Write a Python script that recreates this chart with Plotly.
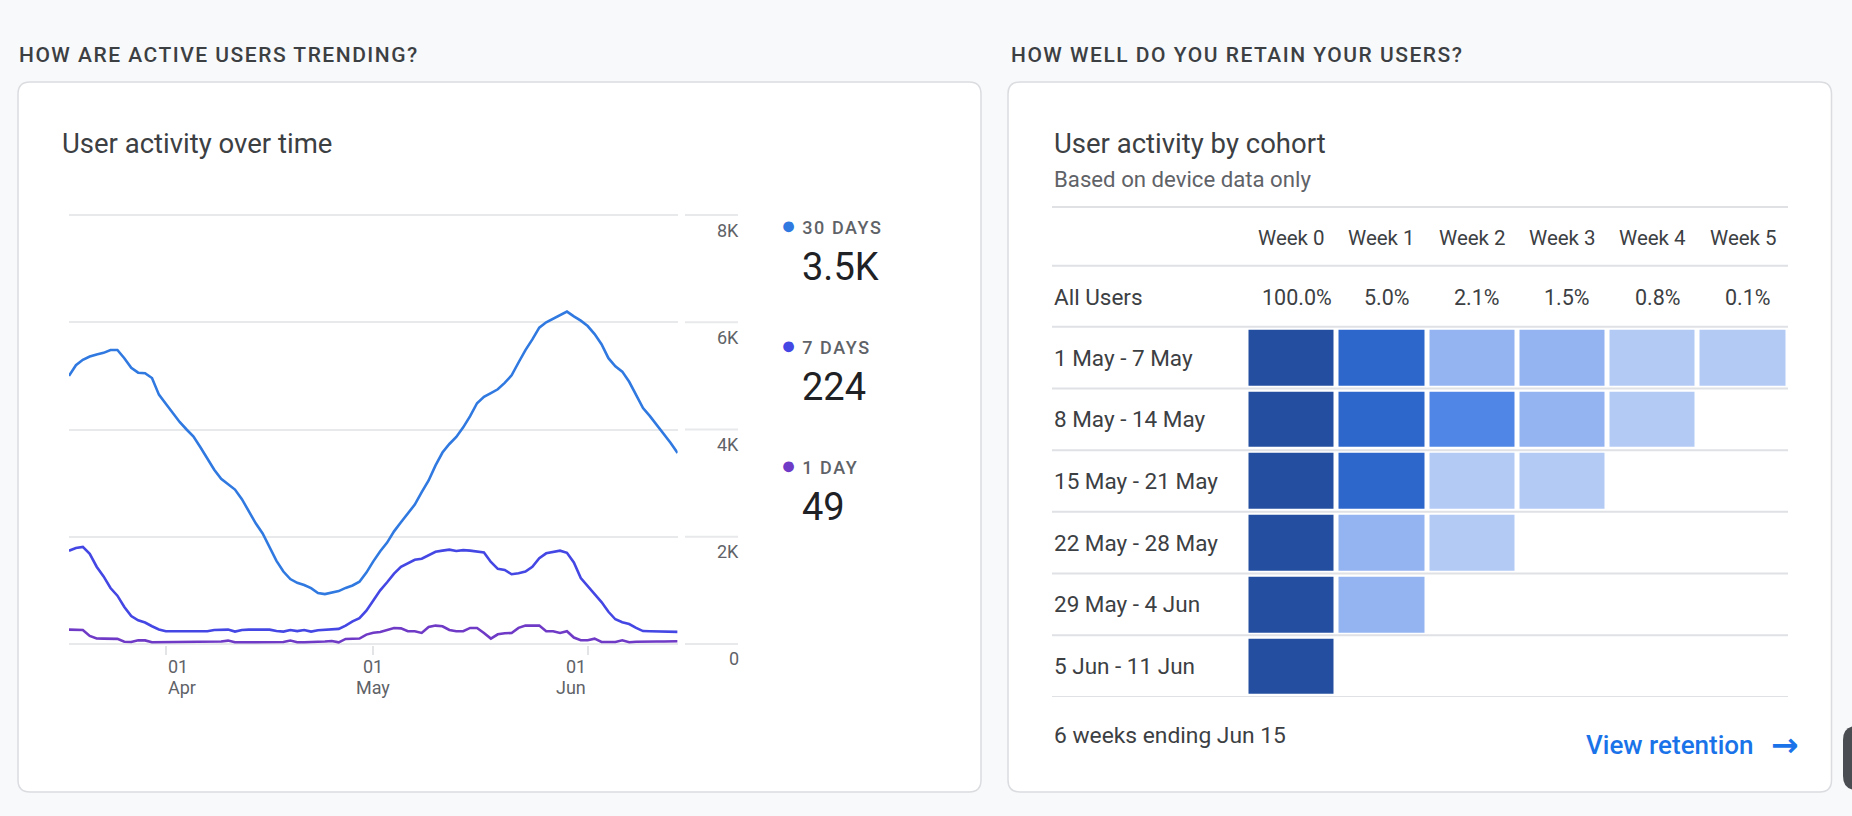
import plotly.graph_objects as go
import pandas as pd

W, H = 1852, 816

# ---------------- data ----------------
dates = pd.date_range("2023-03-18", "2023-06-14", freq="D")

users_30d = [5000, 5200, 5300, 5360, 5400, 5430, 5484, 5484, 5330, 5150,
             5060, 5050, 4960, 4650, 4480, 4300, 4140, 4000, 3870, 3670,
             3460, 3250, 3080, 2980, 2880, 2700, 2480, 2250, 2060, 1800,
             1550, 1350, 1210, 1140, 1100, 1040, 950, 930, 960, 985,
             1045, 1090, 1160, 1330, 1540, 1730, 1890, 2100, 2270, 2440,
             2600, 2830, 3050, 3330, 3570, 3730, 3860, 4040, 4250, 4490,
             4610, 4680, 4750, 4870, 5010, 5250, 5480, 5680, 5900, 6000,
             6070, 6130, 6200, 6110, 6030, 5930, 5780, 5590, 5330, 5180,
             5080, 4890, 4650, 4400, 4250, 4090, 3930, 3750, 3560]

users_7d = [1739, 1790, 1810, 1680, 1440, 1260, 1043, 900, 690, 520,
            440, 400, 330, 270, 236, 236, 236, 236, 236, 236,
            236, 260, 267, 267, 230, 260, 267, 267, 267, 267,
            240, 230, 260, 240, 260, 230, 255, 267, 267, 280,
            340, 420, 480, 620, 810, 1000, 1150, 1310, 1440, 1500,
            1570, 1590, 1660, 1720, 1740, 1758, 1735, 1750, 1740, 1727,
            1708, 1530, 1400, 1380, 1300, 1320, 1350, 1440, 1600, 1690,
            1720, 1739, 1700, 1520, 1230, 1080, 950, 780, 600, 460,
            404, 370, 300, 240, 236, 236, 236, 236, 224]

users_1d = [267, 267, 260, 150, 100, 99, 99, 95, 40, 37,
            68, 66, 31, 31, 31, 31, 31, 31, 31, 31,
            31, 31, 45, 62, 31, 31, 31, 31, 31, 31,
            31, 35, 62, 31, 31, 31, 31, 45, 55, 30,
            93, 93, 100, 174, 210, 224, 260, 298, 290, 236,
            236, 205, 317, 342, 330, 260, 236, 236, 298, 298,
            205, 99, 180, 200, 205, 300, 342, 342, 342, 236,
            236, 205, 236, 120, 70, 68, 99, 37, 37, 37,
            68, 31, 40, 45, 45, 45, 45, 45, 49]

series_names = ["30 DAYS", "7 DAYS", "1 DAY"]
series_latest = ["3.5K", "224", "49"]
series_colors = ["#3079e0", "#4447e3", "#6f3ac6"]

y_ticks = [0, 2000, 4000, 6000, 8000]
y_tick_labels = ["0", "2K", "4K", "6K", "8K"]
x_ticks = ["2023-04-01", "2023-05-01", "2023-06-01"]
x_tick_days = ["01", "01", "01"]
x_tick_months = ["Apr", "May", "Jun"]

weeks = ["Week 0", "Week 1", "Week 2", "Week 3", "Week 4", "Week 5"]
all_users_pct = [100.0, 5.0, 2.1, 1.5, 0.8, 0.1]
cohorts = ["1 May - 7 May", "8 May - 14 May", "15 May - 21 May",
           "22 May - 28 May", "29 May - 4 Jun", "5 Jun - 11 Jun"]
cohort_retention = [
    [100.0, 6.2, 2.3, 1.9, 0.9, 0.1],
    [100.0, 5.8, 3.6, 1.7, 0.7, None],
    [100.0, 5.5, 0.9, 0.8, None, None],
    [100.0, 2.0, 1.0, None, None, None],
    [100.0, 2.1, None, None, None, None],
    [100.0, None, None, None, None, None],
]
bin_edges = [1.5, 3.0, 5.0, 50.0]
bin_colors = ["#b3caf4", "#93b4f0", "#5087e6", "#2d67cc", "#244fa0"]

# ---------------- helpers ----------------
FONT = "Roboto"
GRID = "#e8e9eb"
RULE = "#dfe1e5"


def X(px):
    return px / W


def Y(py):
    return 1 - py / H


def rrect(x0, y0, x1, y1, r):
    return (f"M {X(x0 + r)},{Y(y0)} L {X(x1 - r)},{Y(y0)} "
            f"Q {X(x1)},{Y(y0)} {X(x1)},{Y(y0 + r)} L {X(x1)},{Y(y1 - r)} "
            f"Q {X(x1)},{Y(y1)} {X(x1 - r)},{Y(y1)} L {X(x0 + r)},{Y(y1)} "
            f"Q {X(x0)},{Y(y1)} {X(x0)},{Y(y1 - r)} L {X(x0)},{Y(y0 + r)} "
            f"Q {X(x0)},{Y(y0)} {X(x0 + r)},{Y(y0)} Z")


def level(v):
    if v is None:
        return None
    k = 0
    for e in bin_edges:
        if v >= e:
            k += 1
    return k


fig = go.Figure()

# ---------------- line chart ----------------
for vals, name, col in [(users_1d, series_names[2], series_colors[2]),
                        (users_7d, series_names[1], series_colors[1]),
                        (users_30d, series_names[0], series_colors[0])]:
    fig.add_trace(go.Scatter(x=dates, y=vals, mode="lines", name=name,
                             line=dict(color=col, width=2.6),
                             showlegend=False, xaxis="x", yaxis="y"))

# ---------------- cohort heatmap ----------------
z = [[level(v) for v in row] for row in cohort_retention]
htext = [[("" if v is None else f"{v:.1f}%") for v in row] for row in cohort_retention]
n = len(bin_colors)
cscale = []
for i, c in enumerate(bin_colors):
    cscale.append([i / n, c])
    cscale.append([(i + 1) / n, c])
fig.add_trace(go.Heatmap(
    z=z, x=list(range(len(weeks))), y=list(range(len(cohorts))),
    text=htext, hovertemplate="%{text}<extra></extra>",
    colorscale=cscale, zmin=-0.5, zmax=n - 0.5, showscale=False,
    xgap=5, ygap=6, xaxis="x2", yaxis="y2"))

shapes = []
annotations = []

# cards
for (x0, x1) in [(18, 981), (1008, 1831.5)]:
    shapes.append(dict(type="path", xref="paper", yref="paper",
                       path=rrect(x0, 82, x1, 792, 12),
                       fillcolor="white", line=dict(color="#dadce0", width=1.5),
                       layer="below"))
# partial dark element at far right edge
shapes.append(dict(type="path", xref="paper", yref="paper",
                   path=rrect(1843, 726, 1880, 790, 14),
                   fillcolor="#4a4d51", line=dict(width=0), layer="below"))

# y-axis side grid segments + labels
for v, t in zip(y_ticks, y_tick_labels):
    shapes.append(dict(type="line", xref="paper", yref="y",
                       x0=X(685), x1=X(738), y0=v, y1=v,
                       line=dict(color=GRID, width=2)))
    annotations.append(dict(xref="paper", yref="y", x=X(741), y=v,
                            xanchor="right", yanchor="middle", yshift=-15,
                            text=t, showarrow=False,
                            font=dict(family=FONT, size=18, color="#5f6368")))

# x tick labels
for i, (d, dd, mm) in enumerate(zip(x_ticks, x_tick_days, x_tick_months)):
    anc = "left" if i == 0 else ("right" if i == len(x_ticks) - 1 else "center")
    annotations.append(dict(xref="x", yref="paper", x=d, y=Y(666),
                            xanchor=anc, yanchor="middle", text=dd, showarrow=False,
                            font=dict(family=FONT, size=18, color="#5f6368")))
    annotations.append(dict(xref="x", yref="paper", x=d, y=Y(687),
                            xanchor=anc, yanchor="middle", text=mm, showarrow=False,
                            font=dict(family=FONT, size=18, color="#5f6368")))

# legend-like summary
for i, (name, val, col) in enumerate(zip(series_names, series_latest, series_colors)):
    yc = 228 + 120 * i
    annotations.append(dict(xref="paper", yref="paper", x=X(779), y=Y(yc - 3),
                            xanchor="left", yanchor="middle",
                            text=(f"<span style='color:{col};font-size:25px'>●</span>"
                                  f"<span style='letter-spacing:1.6px'> {name}</span>"),
                            showarrow=False,
                            font=dict(family=FONT, size=18, color="#5f6368", weight=500)))
    annotations.append(dict(xref="paper", yref="paper", x=X(800), y=Y(yc + 39),
                            xanchor="left", yanchor="middle", text=val, showarrow=False,
                            font=dict(family=FONT, size=38, color="#202124")))

# headings and titles
HEAD = dict(family=FONT, size=21, color="#3c4043", weight=500)
annotations.append(dict(xref="paper", yref="paper", x=X(17), y=Y(55),
                        xanchor="left", yanchor="middle",
                        text="<span style='letter-spacing:1.5px'>HOW ARE ACTIVE USERS TRENDING?</span>",
                        showarrow=False, font=HEAD))
annotations.append(dict(xref="paper", yref="paper", x=X(1009), y=Y(55),
                        xanchor="left", yanchor="middle",
                        text="<span style='letter-spacing:1.5px'>HOW WELL DO YOU RETAIN YOUR USERS?</span>",
                        showarrow=False, font=HEAD))
TITLE = dict(family=FONT, size=27.5, color="#3c4043")
annotations.append(dict(xref="paper", yref="paper", x=X(60), y=Y(143),
                        xanchor="left", yanchor="middle", text="User activity over time",
                        showarrow=False, font=TITLE))
annotations.append(dict(xref="paper", yref="paper", x=X(1052), y=Y(143),
                        xanchor="left", yanchor="middle", text="User activity by cohort",
                        showarrow=False, font=TITLE))
annotations.append(dict(xref="paper", yref="paper", x=X(1052), y=Y(179),
                        xanchor="left", yanchor="middle", text="Based on device data only",
                        showarrow=False, font=dict(family=FONT, size=22.2, color="#5f6368")))

# table rules
for py in [207, 265.7, 326.7]:
    shapes.append(dict(type="line", xref="paper", yref="paper",
                       x0=X(1052), x1=X(1788), y0=Y(py), y1=Y(py),
                       line=dict(color=RULE, width=2)))
for k in range(len(cohorts)):
    shapes.append(dict(type="line", xref="paper", yref="y2",
                       x0=X(1052), x1=X(1788), y0=k + 0.5, y1=k + 0.5,
                       line=dict(color=RULE, width=2)))

# table text
HDR = dict(family=FONT, size=20.5, color="#3c4043")
PCT = dict(family=FONT, size=21.5, color="#3c4043")
ROW = dict(family=FONT, size=22.5, color="#3c4043")
for i, wk in enumerate(weeks):
    annotations.append(dict(xref="x2", yref="paper", x=i, y=Y(238.5),
                            xanchor="center", yanchor="middle", text=wk,
                            showarrow=False, font=HDR))
    annotations.append(dict(xref="x2", yref="paper", x=i, y=Y(297), xshift=5,
                            xanchor="center", yanchor="middle",
                            text=f"{all_users_pct[i]:.1f}%", showarrow=False, font=PCT))
annotations.append(dict(xref="paper", yref="paper", x=X(1052), y=Y(297),
                        xanchor="left", yanchor="middle", text="All Users",
                        showarrow=False, font=ROW))
for k, c in enumerate(cohorts):
    annotations.append(dict(xref="paper", yref="y2", x=X(1052), y=k,
                            xanchor="left", yanchor="middle", text=c,
                            showarrow=False, font=ROW))

annotations.append(dict(xref="paper", yref="paper", x=X(1052), y=Y(735),
                        xanchor="left", yanchor="middle", text="6 weeks ending Jun 15",
                        showarrow=False, font=dict(family=FONT, size=22.8, color="#3c4043")))
annotations.append(dict(xref="paper", yref="paper", x=X(1756), y=Y(745),
                        xanchor="right", yanchor="middle", text="View retention",
                        showarrow=False,
                        font=dict(family=FONT, size=26, color="#1a73e8", weight=500)))
annotations.append(dict(xref="paper", yref="paper", x=X(1801), y=Y(744),
                        xanchor="right", yanchor="middle", text="→",
                        showarrow=False,
                        font=dict(family="DejaVu Sans", size=33, color="#1a73e8", weight="bold")))

fig.update_layout(
    width=W, height=H, autosize=False,
    margin=dict(l=0, r=0, t=0, b=0),
    paper_bgcolor="#f8f9fa", plot_bgcolor="rgba(0,0,0,0)",
    showlegend=False,
    xaxis=dict(domain=[X(69), X(677.6)], range=[dates[0], dates[-1]],
               showgrid=False, zeroline=False, showline=False,
               tickvals=x_ticks, showticklabels=False,
               ticks="outside", ticklen=9, tickwidth=1.5, tickcolor="#e3e4e6"),
    yaxis=dict(domain=[Y(645), Y(214)], range=[-20, 8020],
               tickvals=y_ticks, showticklabels=False,
               showgrid=True, gridcolor=GRID, gridwidth=2,
               zeroline=False, showline=False, ticks=""),
    xaxis2=dict(domain=[X(1246.5), X(1788.2)], range=[-0.5, len(weeks) - 0.5],
                visible=False, anchor="y2"),
    yaxis2=dict(domain=[Y(697), Y(326.7)], range=[len(cohorts) - 0.5, -0.5],
                visible=False, anchor="x2"),
    shapes=shapes, annotations=annotations,
    hovermode="closest",
)

fig.write_html("out.html",
               config={"displayModeBar": False},
               post_script="document.body.style.margin='0';"
                           "document.documentElement.style.overflow='hidden';")
